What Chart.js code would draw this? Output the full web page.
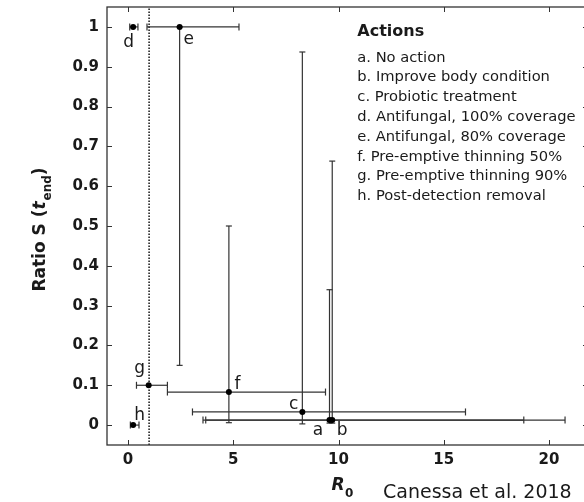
<!DOCTYPE html>
<html>
<head>
<meta charset="utf-8">
<script src="https://cdn.jsdelivr.net/npm/chart.js@4"></script>
<style>
html,body{margin:0;padding:0;background:#fff;overflow:hidden;width:584px;height:502px;}
#wrap{width:600px;height:502px;}
</style>
</head>
<body>
<div id="wrap"><canvas id="c" width="600" height="502"></canvas></div>
<script>
// ---- data ----
const actionKeys = ['a','b','c','d','e','f','g','h'];
const actionLabels = [
  'a. No action',
  'b. Improve body condition',
  'c. Probiotic treatment',
  'd. Antifungal, 100% coverage',
  'e. Antifungal, 80% coverage',
  'f. Pre-emptive thinning 50%',
  'g. Pre-emptive thinning 90%',
  'h. Post-detection removal'
];
const r0        = [9.57, 9.70, 8.28, 0.24, 2.45, 4.79, 0.98, 0.24];
const ratio     = [0.0125, 0.0125, 0.033, 1.0, 1.0, 0.083, 0.10, 0.0];
const r0Low     = [3.56, 3.69, 3.06, 0.08, 0.90, 1.87, 0.40, 0.11];
const r0High    = [18.8, 20.76, 16.03, 0.47, 5.27, 9.38, 1.87, 0.52];
const ratioLow  = [0.005, 0.005, 0.003, null, 0.15, 0.006, null, null];
const ratioHigh = [0.34, 0.663, 0.937, null, 1.0, 0.50, null, null];
const threshold = 1;
const xTicks = [0, 5, 10, 15, 20];
const yTicks = [0, 0.1, 0.2, 0.3, 0.4, 0.5, 0.6, 0.7, 0.8, 0.9, 1];

// ---- styles (pixel offsets of letter labels: [dx, dy to baseline]) ----
const labelOffsets = [[-11.5,15.3],[10,15.3],[-8.6,-3.2],[-4.4,20],[9,16.7],[8.6,-3.3],[-9,-12],[6.6,-5]];
const INK = '#1a1a1a';
const LINE = '#333';
const FAM = '"DejaVu Sans", sans-serif';
Chart.defaults.font.family = FAM;

const datasets = [];
// threshold line R0 = 1
datasets.push({
  data: [{x: threshold, y: -0.05}, {x: threshold, y: 1.05}],
  showLine: true, borderColor: '#222', borderWidth: 1.6, borderDash: [1.6, 1.4],
  pointRadius: 0, order: 5
});
actionKeys.forEach((k, i) => {
  datasets.push({
    data: [{x: r0Low[i], y: ratio[i]}, {x: r0High[i], y: ratio[i]}],
    showLine: true, borderColor: LINE, borderWidth: 1.2,
    pointStyle: 'line', pointRotation: 90, pointRadius: 3.5,
    pointBorderColor: LINE, pointBorderWidth: 1.2, order: 3
  });
  if (ratioLow[i] !== null) {
    datasets.push({
      data: [{x: r0[i], y: ratioLow[i]}, {x: r0[i], y: ratioHigh[i]}],
      showLine: true, borderColor: LINE, borderWidth: 1.2,
      pointStyle: 'line', pointRotation: 0, pointRadius: 3,
      pointBorderColor: LINE, pointBorderWidth: 1.2, order: 3
    });
  }
});
datasets.push({
  data: r0.map((v, i) => ({x: v, y: ratio[i]})),
  pointRadius: 3, pointBackgroundColor: '#000', pointBorderColor: '#000',
  pointBorderWidth: 0, showLine: false, order: 1
});

const framePlugin = {
  id: 'frame',
  afterDatasetsDraw(chart) {
    const {ctx, chartArea: a, scales: {x, y}} = chart;
    ctx.save();
    ctx.strokeStyle = LINE; ctx.lineWidth = 1.3;
    ctx.strokeRect(a.left, a.top, a.right - a.left, a.bottom - a.top);
    ctx.lineWidth = 1;
    ctx.beginPath();
    xTicks.forEach(v => {
      const px = Math.round(x.getPixelForValue(v)) + 0.5;
      ctx.moveTo(px, a.bottom); ctx.lineTo(px, a.bottom - 5);
      ctx.moveTo(px, a.top); ctx.lineTo(px, a.top + 5);
    });
    yTicks.forEach(v => {
      const py = Math.round(y.getPixelForValue(v)) + 0.5;
      ctx.moveTo(a.left, py); ctx.lineTo(a.left + 5, py);
      ctx.moveTo(a.right, py); ctx.lineTo(a.right - 5, py);
    });
    ctx.stroke();

    // letter labels
    ctx.fillStyle = INK;
    ctx.font = '17px ' + FAM;
    ctx.textAlign = 'center'; ctx.textBaseline = 'alphabetic';
    actionKeys.forEach((k, i) => {
      const px = x.getPixelForValue(r0[i]) + labelOffsets[i][0];
      const py = y.getPixelForValue(ratio[i]) + labelOffsets[i][1];
      ctx.fillText(k, px, py);
    });

    // legend
    ctx.textAlign = 'left';
    ctx.font = 'bold 16px ' + FAM;
    ctx.fillText('Actions', 357.3, 36);
    ctx.font = '14.7px ' + FAM;
    actionLabels.forEach((t, i) => ctx.fillText(t, 357.3, 61.5 + 19.8 * i));

    // y title
    ctx.save();
    ctx.translate(45, 230);
    ctx.rotate(-Math.PI / 2);
    const parts = [
      {t: 'Ratio S (', f: 'bold 17px ' + FAM, dy: 0},
      {t: 't', f: 'italic bold 17px ' + FAM, dy: 0},
      {t: 'end', f: 'bold 12px ' + FAM, dy: 6},
      {t: ')', f: 'bold 17px ' + FAM, dy: 0}
    ];
    let w = 0;
    parts.forEach(p => { ctx.font = p.f; p.w = ctx.measureText(p.t).width; w += p.w; });
    let cx = -w / 2;
    parts.forEach(p => { ctx.font = p.f; ctx.fillText(p.t, cx, p.dy); cx += p.w + (p.t === 't' ? 1 : 0); });
    ctx.restore();

    // x title
    ctx.font = 'italic bold 17px ' + FAM;
    ctx.fillText('R', 331.5, 490);
    ctx.font = 'bold 12px ' + FAM;
    ctx.fillText('0', 345, 497);
    ctx.font = '19px ' + FAM;
    ctx.fillText('Canessa et al. 2018', 383, 498);
    ctx.restore();
  }
};

new Chart(document.getElementById('c'), {
  type: 'scatter',
  data: {datasets},
  plugins: [framePlugin],
  options: {
    responsive: false,
    animation: false,
    events: [],
    layout: {padding: {left: 0, top: 7, right: 12, bottom: 0}},
    plugins: {legend: {display: false}, tooltip: {enabled: false}},
    scales: {
      x: {
        type: 'linear', min: -1, max: 21.85,
        afterBuildTicks: ax => { ax.ticks = xTicks.map(v => ({value: v})); },
        afterFit: s => { s.height = 57; s.paddingLeft = 0; s.paddingRight = 0; },
        grid: {display: false, drawTicks: false}, border: {display: false},
        ticks: {font: {size: 15, weight: 'bold'}, color: INK, padding: 6, maxRotation: 0, autoSkip: false,
                callback: v => String(v)}
      },
      y: {
        type: 'linear', min: -0.05, max: 1.05,
        afterBuildTicks: ax => { ax.ticks = yTicks.map(v => ({value: v})); },
        afterFit: s => { s.width = 107; s.paddingTop = 0; s.paddingBottom = 0; },
        grid: {display: false, drawTicks: false}, border: {display: false},
        ticks: {font: {size: 15, weight: 'bold'}, color: INK, padding: 8, autoSkip: false,
                callback: v => String(Number(v.toFixed(1)))}
      }
    }
  }
});
</script>
</body>
</html>
